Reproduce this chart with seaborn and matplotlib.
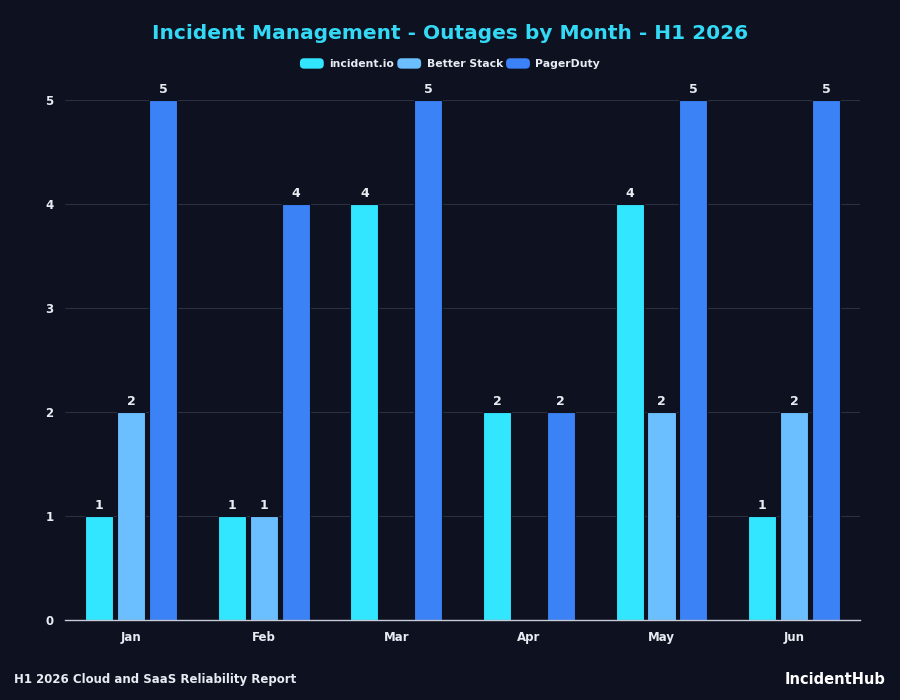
import pandas as pd
import numpy as np
import matplotlib.pyplot as plt
import seaborn as sns
from matplotlib.patches import FancyBboxPatch
from matplotlib.legend_handler import HandlerPatch

# Datos
months = ['Jan', 'Feb', 'Mar', 'Apr', 'May', 'Jun']
providers = ['incident.io', 'Better Stack', 'PagerDuty']
incident_io = [1, 1, 4, 2, 4, 1]
better_stack = [2, 1, 0, 0, 2, 2]
pagerduty = [5, 4, 5, 2, 5, 5]

colors = ['#33e6ff', '#6cbfff', '#3b82f6']
bg = '#0d1120'
text_col = '#e8ecf2'

df = pd.DataFrame({
    'month': months * 3,
    'provider': [p for p in providers for _ in months],
    'outages': incident_io + better_stack + pagerduty,
})


# parches redondeados para la leyenda
class RoundHandler(HandlerPatch):
    def create_artists(self, legend, orig_handle, xdescent, ydescent,
                       width, height, fontsize, trans):
        p = FancyBboxPatch((-xdescent, -ydescent), width, height,
                           boxstyle='round,pad=0,rounding_size=3',
                           facecolor=orig_handle.get_facecolor(),
                           edgecolor='none', transform=trans)
        return [p]


sns.set_theme(style='dark')
plt.rcParams['font.family'] = ['DejaVu Sans']

fig = plt.figure(figsize=(9, 7), dpi=100, facecolor=bg)
ax = fig.add_axes([0.072, 0.114, 0.884, 0.743])
ax.set_facecolor(bg)

sns.barplot(data=df, x='month', y='outages', hue='provider', order=months,
            hue_order=providers, palette=colors, saturation=1, width=0.72,
            gap=0.12, edgecolor=bg, linewidth=0.8, ax=ax, legend=False)

for cont in ax.containers:
    labels = [f'{int(v)}' if v > 0 else '' for v in cont.datavalues]
    ax.bar_label(cont, labels=labels, padding=3, color=text_col,
                 fontsize=9, fontweight='bold', clip_on=False)

ax.set_xlim(-0.5, 5.5)
ax.set_ylim(0, 5)
ax.set_yticks(range(6))
ax.set_xlabel('')
ax.set_ylabel('')
ax.grid(axis='y', color='#2a3040', linewidth=0.8)
ax.grid(axis='x', visible=False)
ax.set_axisbelow(True)
for s in ['top', 'right', 'left']:
    ax.spines[s].set_visible(False)
ax.spines['bottom'].set_color('#c8ccd6')
ax.spines['bottom'].set_linewidth(1)
ax.tick_params(axis='both', length=0, colors=text_col, labelsize=8.5, pad=8)
for lab in ax.get_xticklabels() + ax.get_yticklabels():
    lab.set_fontweight('bold')

# Titulo y leyenda
fig.text(0.5, 0.952, 'Incident Management - Outages by Month - H1 2026',
         ha='center', va='center', color='#33d9f5', fontsize=14.5, fontweight='bold')

handles = [plt.Rectangle((0, 0), 1, 1, facecolor=c, edgecolor='none') for c in colors]
fig.legend(handles, providers, loc='center', bbox_to_anchor=(0.5, 0.909), ncol=3,
           frameon=False, handlelength=2.2, handleheight=1.1, handletextpad=0.5,
           columnspacing=0.3, labelcolor=text_col,
           handler_map={plt.Rectangle: RoundHandler()},
           prop={'size': 7.8, 'weight': 'bold'})

# Pie de pagina
fig.text(0.016, 0.03, 'H1 2026 Cloud and SaaS Reliability Report', ha='left',
         va='center', color=text_col, fontsize=8.5, fontweight='bold')
fig.text(0.984, 0.03, 'IncidentHub', ha='right', va='center', color='white',
         fontsize=10.5, fontweight='bold')

plt.savefig('out.png', dpi=100, facecolor=bg)
plt.close()
